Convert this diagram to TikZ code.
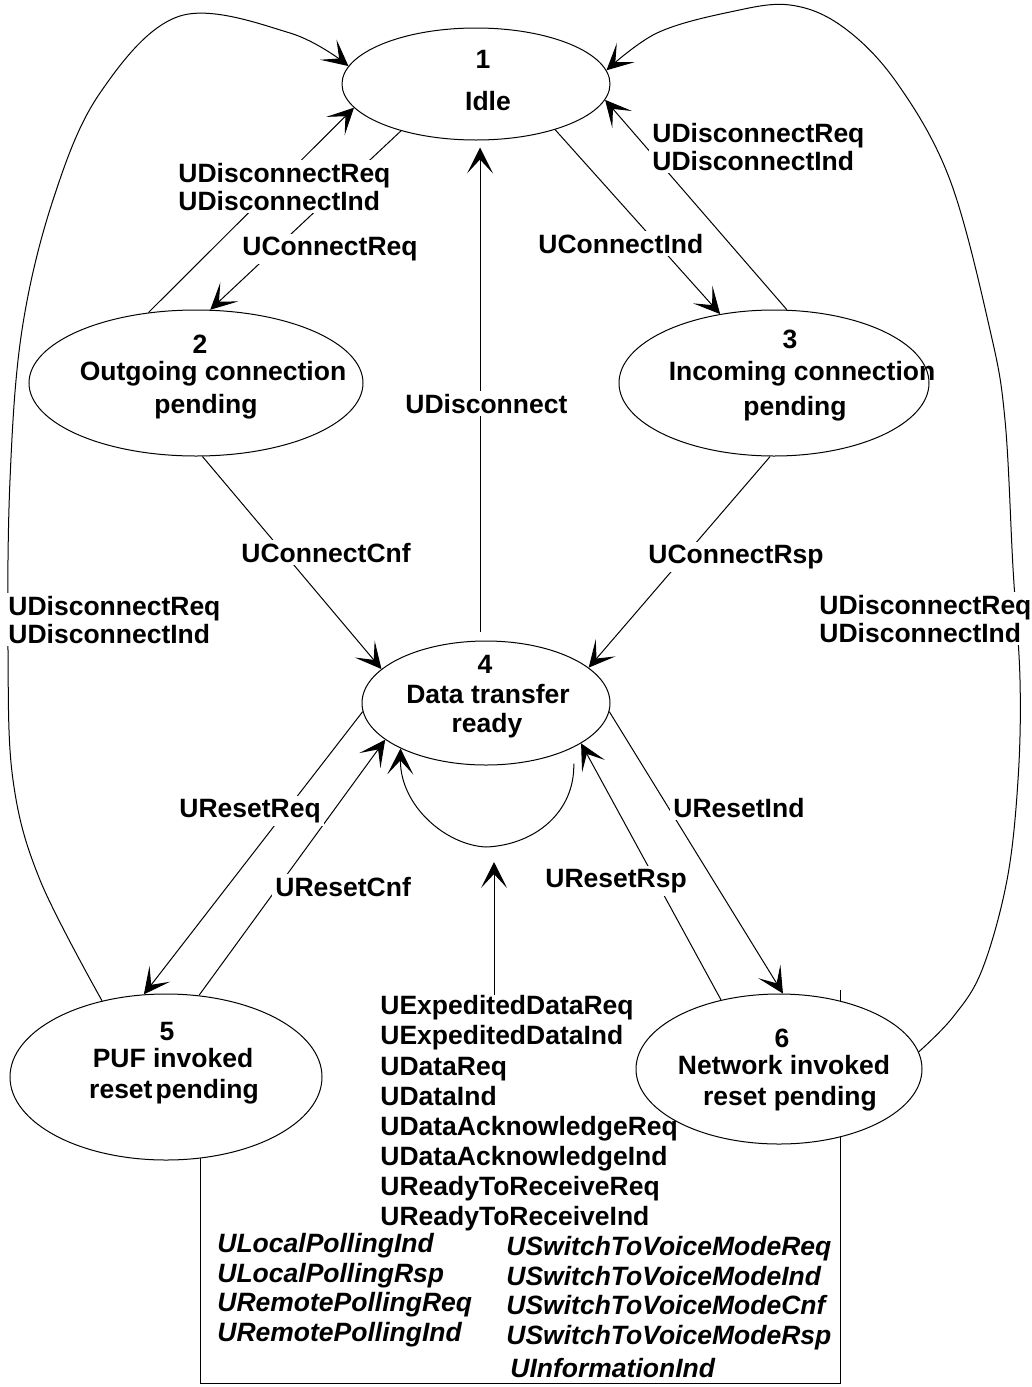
\documentclass[tikz,border=0pt]{standalone}
\usepackage{fontspec}
\setmainfont{Liberation Sans}
\usetikzlibrary{shapes.geometric,arrows.meta,calc}
\begin{document}
\begin{tikzpicture}[x=0.5pt,y=-0.5pt,
  state/.style={draw,ellipse,fill=white,inner sep=0pt,line width=0.5pt},
  tr/.style={line width=0.5pt,-{Stealth[length=13pt,width=13pt,inset=7pt]}},
  ln/.style={line width=0.5pt},
  txt/.style={font=\fontsize{13.25}{14}\selectfont\bfseries,inner sep=0pt},
  ev/.style={txt,anchor=base west,align=left,fill=white,inner sep=1.5pt},
  st/.style={txt,anchor=base},
  lst/.style={anchor=base west,align=left,inner sep=0pt}
]
\useasboundingbox (0,0) rectangle (1032,1387);

% frame around the event list
\coordinate (bx1) at (840,990);
\coordinate (bx2) at (840,1383);
\coordinate (bx3) at (200,1383);

% states
\node[state,minimum width=134pt,minimum height=56pt] (s1) at (476,84) {};
\node[state,minimum width=167pt,minimum height=73pt] (s2) at (196,383) {};
\node[state,minimum width=155pt,minimum height=73pt] (s3) at (774,383) {};
\node[state,minimum width=124pt,minimum height=62pt] (s4) at (486,703) {};

\draw[ln] (bx1) -- (bx2) -- (bx3) -- (bx3 |- 0,1158);

\node[state,minimum width=156pt,minimum height=83pt] (s5) at (166,1077) {};
\node[state,minimum width=143pt,minimum height=75pt] (s6) at (779,1069) {};

% transitions
\draw[tr] (s1.212) -- (s2.79);
\draw[tr] (s2.124) -- (s1.191);
\draw[tr] (s1.330) -- (s3.128);
\draw[tr] (s3.80) -- (s1.353);
\draw[tr] (s2.275) -- (s4.162);
\draw[tr] (s3.267) -- (s4.19);
\draw[tr,shorten <=4.5pt,shorten >=3.5pt] ([xshift=-3pt]s4.north) -- ([xshift=2pt]s1.south);
\draw[tr] (s4.184) -- (s5.105);
\draw[tr] (s5.68) -- (s4.200);
\draw[tr] (s4.356) -- (s6.87);
\draw[tr] (s6.130) -- (s4.337);

% self loop on state 4
\coordinate (loopb) at (486,847);
\draw[tr,shorten <=8pt] (s4.333) .. controls (575,812) and (535,845) .. (loopb)
  .. controls (445,845) and (400,805) .. (s4.208);

% outer returns to Idle
\draw[tr] plot[smooth,tension=0.6] coordinates {(s5.130) (40,880) (13,780) (8,650) (10,480)
  (22,330) (53,200) (100,93) (180,16) (290,33) (s1.172)};
\draw[tr] plot[smooth,tension=0.6] coordinates {(s6.7) (953,1017) (982,970) (1007,880)
  (1018,780) (1020,680) (1013,568) (1005,420) (990,330) (950,180) (897,83) (843,27)
  (790,5) (730,12) (657,33) (s1.6)};

% transition labels (base = baseline of the last line)
\node[ev] (lb1) at (175,210) {UDisconnectReq\\UDisconnectInd};
\node[ev] (lb2) at (649,170) {UDisconnectReq\\UDisconnectInd};
\node[ev] (lb3) at (239,255) {UConnectReq};
\node[ev] (lb4) at (535,253) {UConnectInd};
\node[ev] (lb5) at (402,413) {UDisconnect};
\node[ev] (lb6) at (238,562) {UConnectCnf};
\node[ev] (lb7) at (645,563) {UConnectRsp};
\node[ev] (lb8) at (5,643) {UDisconnectReq\\UDisconnectInd};
\node[ev] (lb9) at (816,642) {UDisconnectReq\\UDisconnectInd};
\node[ev] (lb10) at (176,817) {UResetReq};
\node[ev] (lb11) at (272,896) {UResetCnf};
\node[ev] (lb12) at (670,817) {UResetInd};
\node[ev] (lb13) at (542,887) {UResetRsp};

% state texts
\node[st] (t1a) at (483,68) {1};
\node[st] (t1b) at (488,110) {Idle};
\node[st] (t2a) at (200,353) {2};
\node[st] (t2b) at (213,380) {Outgoing connection};
\node[st] (t2c) at (206,413) {pending};
\node[st] (t3a) at (790,348) {3};
\node[st] (t3b) at (802,380) {Incoming connection};
\node[st] (t3c) at (795,415) {pending};
\node[st] (t4a) at (485,673) {4};
\node[st] (t4b) at (488,703) {Data transfer};
\node[st] (t4c) at (487,732) {ready};
\node[st] (t5a) at (167,1040) {5};
\node[st] (t5b) at (173,1067) {PUF invoked};
\node[st] (t5c) at (174,1098) {reset\kern0.12em pending};
\node[st] (t6a) at (782,1047) {6};
\node[st] (t6b) at (784,1074) {Network invoked};
\node[st] (t6c) at (790,1105) {reset pending};

% event list (base = baseline of the last line)
\node[lst,font=\fontsize{13.25}{15.05}\selectfont\bfseries] (evb) at (380,1225.5)
  {UExpeditedDataReq\\UExpeditedDataInd\\UDataReq\\UDataInd\\UDataAcknowledgeReq\\UDataAcknowledgeInd\\UReadyToReceiveReq\\UReadyToReceiveInd};
\node[lst,font=\fontsize{13.25}{14.85}\selectfont\bfseries\itshape] (evl) at (217,1341.5)
  {ULocalPollingInd\\ULocalPollingRsp\\URemotePollingReq\\URemotePollingInd};
\node[lst,font=\fontsize{13.25}{14.85}\selectfont\bfseries\itshape] (evr) at (506,1344.5)
  {USwitchToVoiceModeReq\\USwitchToVoiceModeInd\\USwitchToVoiceModeCnf\\USwitchToVoiceModeRsp};
\node[lst,font=\fontsize{13.25}{14.85}\selectfont\bfseries\itshape] (evi) at (510,1377.5)
  {UInformationInd};

\coordinate (dtip) at (494,862);
\draw[tr] (dtip |- evb.north) -- (dtip);
\end{tikzpicture}
\end{document}
